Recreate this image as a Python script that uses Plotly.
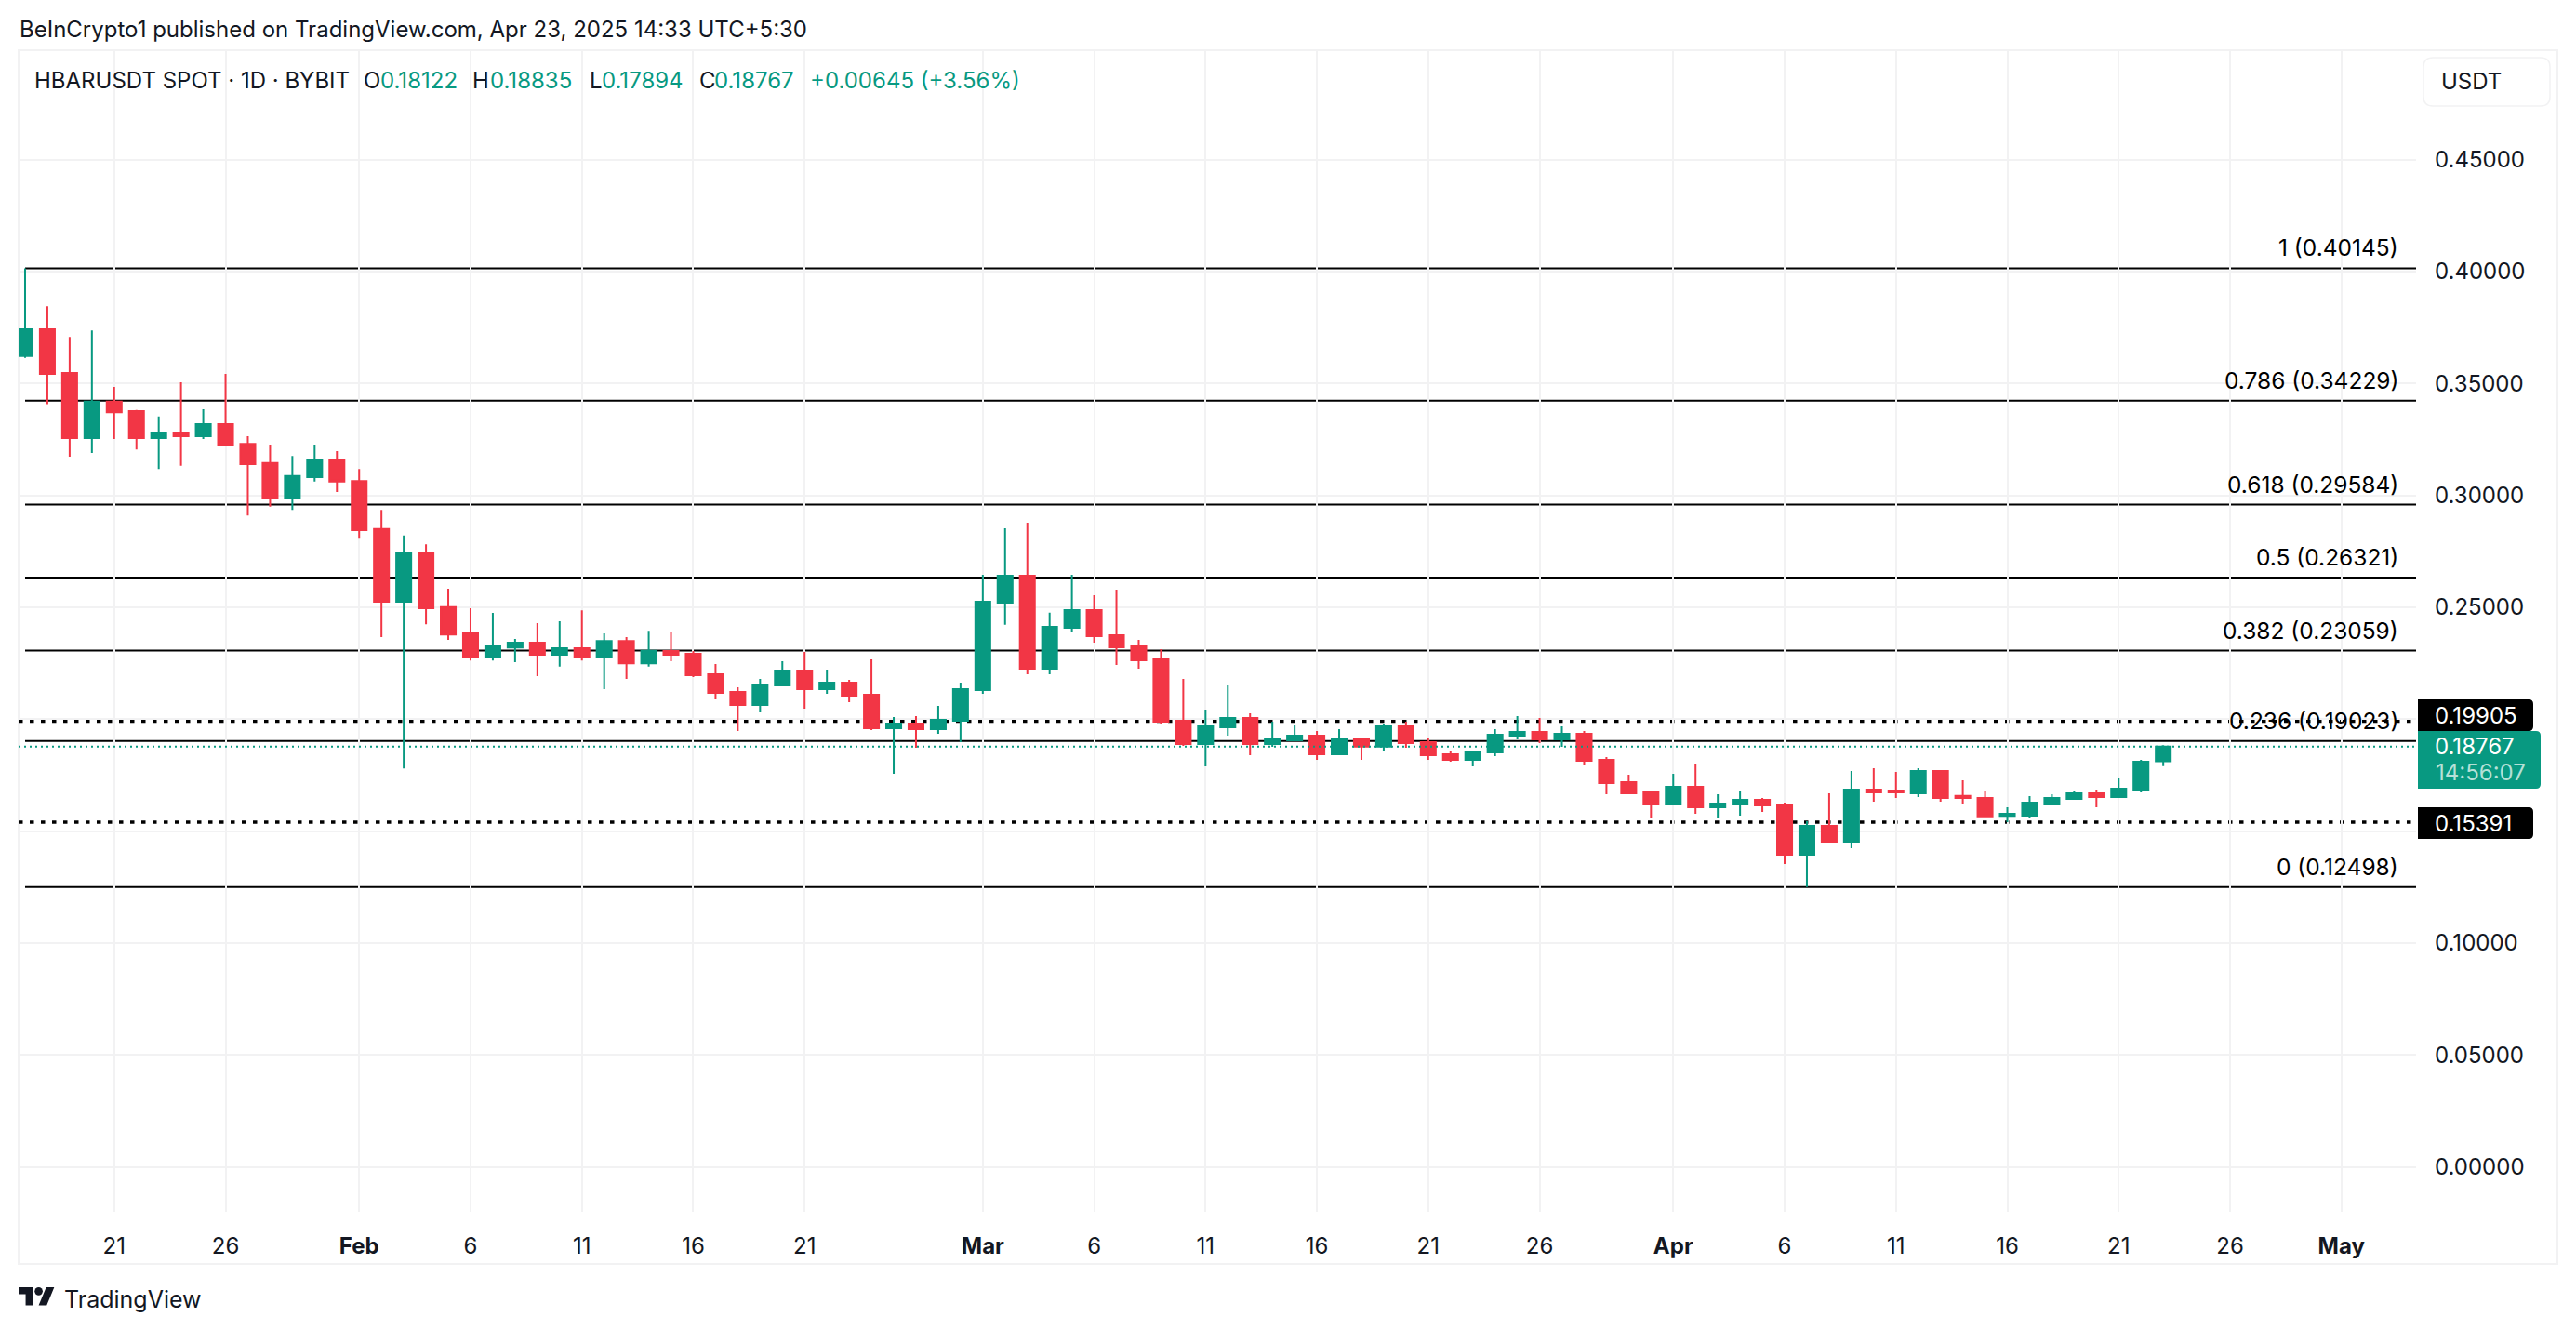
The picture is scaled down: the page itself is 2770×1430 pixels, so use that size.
import pandas as pd
import plotly.graph_objects as go

# ===== DATA ===== #
dates = pd.date_range("2025-01-17", "2025-04-23", freq="D")

opens = [0.3622, 0.3742, 0.3547, 0.3256, 0.3419, 0.3376, 0.3256, 0.3276, 0.3264, 0.3318, 0.3230, 0.3144, 0.2986, 0.3081, 0.3156,
         0.3064, 0.2849, 0.2524, 0.2744, 0.2500, 0.2383, 0.2278, 0.2320, 0.2341, 0.2288, 0.2317, 0.2278, 0.2349, 0.2249, 0.2304,
         0.2292, 0.2200, 0.2121, 0.2063, 0.2150, 0.2217, 0.2134, 0.2163, 0.2109, 0.1959, 0.1980, 0.1955, 0.1992,
         0.2130, 0.2520, 0.2641, 0.2225, 0.2408, 0.2487, 0.2375, 0.2325, 0.2267, 0.1992, 0.1889, 0.1963, 0.2005, 0.1889,
         0.1905, 0.1926, 0.1843, 0.1913, 0.1877, 0.1972, 0.1897, 0.1843, 0.1818, 0.1851, 0.1926, 0.1943, 0.1909, 0.1934,
         0.1818, 0.1718, 0.1673,
         0.1623, 0.1697, 0.1606, 0.1619, 0.1639, 0.1619, 0.1394, 0.1523, 0.1452, 0.1685, 0.1681, 0.1668, 0.1768, 0.1657,
         0.1648, 0.1568, 0.1569, 0.1623, 0.1643, 0.1668, 0.1652, 0.1685, 0.18122]
highs = [0.4014, 0.3845, 0.3708, 0.3737, 0.3484, 0.3381, 0.3352, 0.3505, 0.3384, 0.3542, 0.3264, 0.3227, 0.3176, 0.3227, 0.3198,
         0.3118, 0.2935, 0.2820, 0.2781, 0.2583, 0.2495, 0.2474, 0.2358, 0.2429, 0.2437, 0.2486, 0.2383, 0.2366, 0.2395, 0.2387,
         0.2304, 0.2246, 0.2142, 0.2179, 0.2258, 0.2300, 0.2221, 0.2175, 0.2267, 0.2009, 0.2013, 0.2059, 0.2163,
         0.2645, 0.2853, 0.2878, 0.2475, 0.2645, 0.2553, 0.2578, 0.2354, 0.2312, 0.2179, 0.2042, 0.2150, 0.2026, 0.1988,
         0.1972, 0.1947, 0.1955, 0.1914, 0.1980, 0.1988, 0.1914, 0.1860, 0.1855, 0.1955, 0.2013, 0.2005, 0.1968, 0.1947,
         0.1830, 0.1751, 0.1681,
         0.1756, 0.1801, 0.1664, 0.1677, 0.1648, 0.1627, 0.1544, 0.1668, 0.1768, 0.1781, 0.1764, 0.1781, 0.1772, 0.1727,
         0.1681, 0.1606, 0.1656, 0.1664, 0.1677, 0.1685, 0.1739, 0.1818, 0.18835]
lows = [0.3614, 0.3407, 0.3173, 0.3189, 0.3252, 0.3205, 0.3118, 0.3132, 0.3252, 0.3227, 0.2910, 0.2949, 0.2935, 0.3061, 0.3015,
        0.2810, 0.2366, 0.1780, 0.2424, 0.2354, 0.2262, 0.2262, 0.2254, 0.2192, 0.2234, 0.2262, 0.2134, 0.2179, 0.2234, 0.2258,
        0.2188, 0.2088, 0.1947, 0.2034, 0.2146, 0.2047, 0.2113, 0.2076, 0.1951, 0.1756, 0.1872, 0.1934, 0.1897,
        0.2113, 0.2421, 0.2200, 0.2200, 0.2391, 0.2342, 0.2242, 0.2225, 0.1980, 0.1880, 0.1789, 0.1926, 0.1839, 0.1876,
        0.1901, 0.1818, 0.1839, 0.1818, 0.1860, 0.1872, 0.1818, 0.1810, 0.1789, 0.1835, 0.1909, 0.1893, 0.1876, 0.1797,
        0.1664, 0.1664, 0.1560,
        0.1614, 0.1577, 0.1556, 0.1569, 0.1585, 0.1353, 0.1250, 0.1452, 0.1423, 0.1631, 0.1648, 0.1652, 0.1631, 0.1623,
        0.1565, 0.1540, 0.1560, 0.1619, 0.1639, 0.1606, 0.1652, 0.1673, 0.17894]
closes = [0.3742, 0.3542, 0.3256, 0.3419, 0.3371, 0.3256, 0.3276, 0.3264, 0.3318, 0.3227, 0.3139, 0.2986, 0.3086, 0.3156, 0.3061,
          0.2844, 0.2524, 0.2744, 0.2495, 0.2378, 0.2278, 0.2325, 0.2341, 0.2288, 0.2317, 0.2278, 0.2349, 0.2249, 0.2305, 0.2288,
          0.2196, 0.2117, 0.2063, 0.2155, 0.2217, 0.2134, 0.2163, 0.2105, 0.1959, 0.1980, 0.1955, 0.1997, 0.2134,
          0.2524, 0.2641, 0.2225, 0.2412, 0.2487, 0.2371, 0.2321, 0.2263, 0.1988, 0.1889, 0.1968, 0.2005, 0.1889, 0.1909,
          0.1926, 0.1843, 0.1913, 0.1877, 0.1972, 0.1893, 0.1839, 0.1818, 0.1855, 0.1930, 0.1943, 0.1909, 0.1934, 0.1814,
          0.1714, 0.1668, 0.1623,
          0.1697, 0.1606, 0.1623, 0.1639, 0.1614, 0.1394, 0.1523, 0.1452, 0.1685, 0.1673, 0.1673, 0.1768, 0.1648, 0.1648,
          0.1565, 0.1577, 0.1627, 0.1648, 0.1668, 0.1652, 0.1689, 0.1810, 0.18767]

fib_levels = [0.40145, 0.34229, 0.29584, 0.26321, 0.23059, 0.19023, 0.12498]
fib_labels = ["1 (0.40145)", "0.786 (0.34229)", "0.618 (0.29584)", "0.5 (0.26321)",
              "0.382 (0.23059)", "0.236 (0.19023)", "0 (0.12498)"]
dotted_levels = [0.19905, 0.15391]

y_ticks = [0.00, 0.05, 0.10, 0.15, 0.20, 0.25, 0.30, 0.35, 0.40, 0.45]
x_tick_dates = ["2025-01-21", "2025-01-26", "2025-02-01", "2025-02-06", "2025-02-11", "2025-02-16", "2025-02-21",
                "2025-03-01", "2025-03-06", "2025-03-11", "2025-03-16", "2025-03-21", "2025-03-26",
                "2025-04-01", "2025-04-06", "2025-04-11", "2025-04-16", "2025-04-21", "2025-04-26", "2025-05-01"]
x_tick_text = ["21", "26", "<b>Feb</b>", "6", "11", "16", "21",
               "<b>Mar</b>", "6", "11", "16", "21", "26",
               "<b>Apr</b>", "6", "11", "16", "21", "26", "<b>May</b>"]

last_price = 0.18767
countdown = "14:56:07"
title_text = "BeInCrypto1 published on TradingView.com, Apr 23, 2025 14:33 UTC+5:30"

# ===== LAYOUT CONSTANTS ===== #
WIDTH, HEIGHT = 2770, 1430
LEFT, RIGHT, TOP, BOTTOM = 20, 2598, 54, 1303
X_RANGE = ["2025-01-16 17:00", "2025-05-04 08:24"]
Y_RANGE = [-0.02015, 0.49884]

GREEN = "#089981"
RED = "#F23645"
INK = "#131722"
GRID = "#F2F2F3"
FONT = "Inter"
FONT_SIZE = 24


def px(x):
    return (x - LEFT) / (RIGHT - LEFT)


def py(y):
    return (BOTTOM - y) / (BOTTOM - TOP)


def box_path(x0, y0, x1, y1, r, left_round=False):
    # rounded box in screen pixels, converted to paper coordinates
    lr = r if left_round else 0
    return (f"M{px(x0 + lr)},{py(y0)} L{px(x1 - r)},{py(y0)} Q{px(x1)},{py(y0)} {px(x1)},{py(y0 + r)} "
            f"L{px(x1)},{py(y1 - r)} Q{px(x1)},{py(y1)} {px(x1 - r)},{py(y1)} L{px(x0 + lr)},{py(y1)} "
            f"Q{px(x0)},{py(y1)} {px(x0)},{py(y1 - lr)} L{px(x0)},{py(y0 + lr)} Q{px(x0)},{py(y0)} {px(x0 + lr)},{py(y0)} Z")


def label(fig, text, x, y, color=INK, size=FONT_SIZE, anchor="left", yref="paper", yshift=0):
    fig.add_annotation(text=text, x=x, y=y, xref="paper", yref=yref, xanchor=anchor, yanchor="middle",
                       yshift=yshift, showarrow=False, borderpad=0,
                       font=dict(family=FONT, size=size, color=color))


fig = go.Figure()

fig.add_trace(go.Candlestick(
    x=dates, open=opens, high=highs, low=lows, close=closes, whiskerwidth=0,
    increasing=dict(line=dict(color=GREEN, width=2), fillcolor=GREEN),
    decreasing=dict(line=dict(color=RED, width=2), fillcolor=RED),
))

# Fibonacci levels, behind the candles
for level in fib_levels:
    fig.add_shape(type="line", xref="x", yref="y", x0=dates[0], x1=X_RANGE[1], y0=level, y1=level,
                  layer="below", line=dict(color="black", width=2))

for level in dotted_levels:
    fig.add_shape(type="line", xref="x", yref="y", x0=X_RANGE[0], x1=X_RANGE[1], y0=level, y1=level,
                  layer="below", line=dict(color="black", width=3.5, dash="4.5px,7.5px"))

fig.add_shape(type="line", xref="x", yref="y", x0=X_RANGE[0], x1=X_RANGE[1], y0=last_price, y1=last_price,
              layer="above", line=dict(color=GREEN, width=2, dash="2px,4px"))

for level, text in zip(fib_levels, fib_labels):
    label(fig, text, px(2580), level, color="black", size=24.5, anchor="right", yref="y", yshift=22)

# Chart frame
fig.add_shape(type="rect", xref="paper", yref="paper", x0=0, x1=px(2750), y0=py(1359), y1=1,
              layer="below", line=dict(color=GRID, width=2))

# Price axis badges
fig.add_shape(type="path", xref="paper", yref="paper", path=box_path(2606, 62, 2742, 114, 10, True),
              line=dict(color=GRID, width=1.5), fillcolor="white")
label(fig, "USDT", px(2624), py(87))

fig.add_shape(type="path", xref="paper", yref="paper", path=box_path(2600, 752, 2724, 786, 5),
              line_width=0, fillcolor="black")
fig.add_shape(type="path", xref="paper", yref="paper", path=box_path(2600, 786, 2732, 848, 5),
              line_width=0, fillcolor=GREEN)
fig.add_shape(type="path", xref="paper", yref="paper", path=box_path(2600, 868, 2724, 902, 5),
              line_width=0, fillcolor="black")

label(fig, f"{dotted_levels[0]:.5f}", px(2617), dotted_levels[0], color="white", yref="y", yshift=6)
label(fig, f"{last_price:.5f}", px(2617), last_price, color="white", yref="y")
label(fig, countdown, px(2618), last_price, color="#B5E0D7", yref="y", yshift=-28)
label(fig, f"{dotted_levels[1]:.5f}", px(2617), dotted_levels[1], color="white", yref="y", yshift=-1)

# Header
label(fig, title_text, px(20), py(32))
legend_texts = ["HBARUSDT SPOT · 1D · BYBIT", "O", "0.18122", "H", "0.18835", "L", "0.17894", "C", "0.18767",
                "+0.00645 (+3.56%)"]
legend_x = [36, 390, 408, 507, 526, 633, 646, 751, 767, 870]
legend_colors = [INK, INK, GREEN, INK, GREEN, INK, GREEN, INK, GREEN, GREEN]
for text, x, color in zip(legend_texts, legend_x, legend_colors):
    label(fig, text, px(x), py(86), color=color)

# TradingView mark
s = 1.08
ox, oy = 20, 1379.7
logo = [(14, 22), (7, 22), (7, 11), (0, 11), (0, 4), (14, 4), (14, 22)]
slash = [(28, 22), (20, 22), (27.5, 4), (35.5, 4), (28, 22)]
for pts in (logo, slash):
    d = " ".join(("M" if i == 0 else "L") + f"{px(ox + a * s)},{py(oy + b * s)}" for i, (a, b) in enumerate(pts)) + " Z"
    fig.add_shape(type="path", xref="paper", yref="paper", path=d, line_width=0, fillcolor=INK)
fig.add_shape(type="circle", xref="paper", yref="paper", x0=px(ox + 16 * s), x1=px(ox + 24 * s),
              y0=py(oy + 12 * s), y1=py(oy + 4 * s), line_width=0, fillcolor=INK)
label(fig, "TradingView", px(68), py(1397), size=25)

fig.update_xaxes(type="date", range=X_RANGE, rangeslider_visible=False, tickvals=x_tick_dates, ticktext=x_tick_text,
                 showgrid=True, gridcolor=GRID, gridwidth=2, zeroline=False, showline=False, ticks="",
                 ticklabelstandoff=20, tickfont=dict(family=FONT, size=FONT_SIZE, color=INK))
fig.update_yaxes(range=Y_RANGE, side="right", tickvals=y_ticks, tickformat=".5f",
                 showgrid=True, gridcolor=GRID, gridwidth=2, zeroline=False, showline=False, ticks="",
                 ticklabelstandoff=19, tickfont=dict(family=FONT, size=FONT_SIZE, color=INK))
fig.update_layout(width=WIDTH, height=HEIGHT, margin=dict(l=LEFT, r=WIDTH - RIGHT, t=TOP, b=HEIGHT - BOTTOM),
                  paper_bgcolor="white", plot_bgcolor="white", showlegend=False,
                  boxgap=0.33, boxgroupgap=0, font=dict(family=FONT, color=INK))

fig.write_html("out.html", config=dict(displayModeBar=False),
               post_script="document.body.style.margin='0';document.documentElement.style.overflow='hidden';")
